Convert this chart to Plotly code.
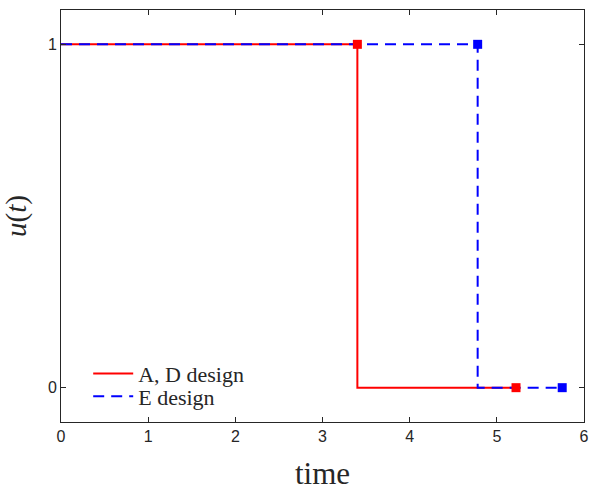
import plotly.graph_objects as go

# Data
ad_t = [0, 3.4, 5.22]
ad_u = [1, 0, 0]
ad_mark_t = [3.4, 5.22]
ad_mark_u = [1, 0]

e_t = [0, 4.78, 5.75]
e_u = [1, 0, 0]
e_mark_t = [4.78, 5.75]
e_mark_u = [1, 0]

x_ticks = [0, 1, 2, 3, 4, 5, 6]
y_ticks = [0, 1]

RED = "#ff0000"
BLUE = "#0000ff"
SERIF = "Liberation Serif, DejaVu Serif, serif"

fig = go.Figure()
fig.add_trace(go.Scatter(x=ad_t, y=ad_u, mode="lines", line_shape="hv",
                         line=dict(color=RED, width=2), name="A, D design", legend="legend"))
fig.add_trace(go.Scatter(x=e_t, y=e_u, mode="lines", line_shape="hv",
                         line=dict(color=BLUE, width=2, dash="11px,7px"), name="E design",
                         legend="legend2"))
fig.add_trace(go.Scatter(x=ad_mark_t, y=ad_mark_u, mode="markers",
                         marker=dict(symbol="square", color=RED, size=9),
                         showlegend=False))
fig.add_trace(go.Scatter(x=e_mark_t, y=e_mark_u, mode="markers",
                         marker=dict(symbol="square", color=BLUE, size=9),
                         showlegend=False))

axis_common = dict(showgrid=False, zeroline=False, showline=True, linecolor="#262626",
                   linewidth=1, mirror="ticks", ticks="inside", ticklen=5,
                   tickcolor="#262626", ticklabeloverflow="allow", automargin=False,
                   tickfont=dict(family="Liberation Sans, Arial", size=16, color="#262626"))

legend_common = dict(xanchor="left", yanchor="middle", bgcolor="rgba(0,0,0,0)", borderwidth=0,
                     font=dict(family=SERIF, size=22, color="#262626"), itemwidth=40)

fig.update_layout(
    width=589, height=492,
    margin=dict(l=61, r=5, t=10, b=70),
    plot_bgcolor="white", paper_bgcolor="white",
    xaxis=dict(range=[0, 6], tickvals=x_ticks,
               title=dict(text="time", font=dict(family=SERIF, size=31, color="#262626"),
                          standoff=18),
               **axis_common),
    yaxis=dict(range=[-0.1, 1.1], tickvals=y_ticks,
               title=dict(text="<i>u</i>(<i>t</i>)", font=dict(family=SERIF, size=29, color="#262626"),
                          standoff=16),
               **axis_common),
    legend=dict(x=0.052, y=0.117, **legend_common),
    legend2=dict(x=0.052, y=0.062, **legend_common),
    showlegend=True,
)

fig.write_html("out.html")
